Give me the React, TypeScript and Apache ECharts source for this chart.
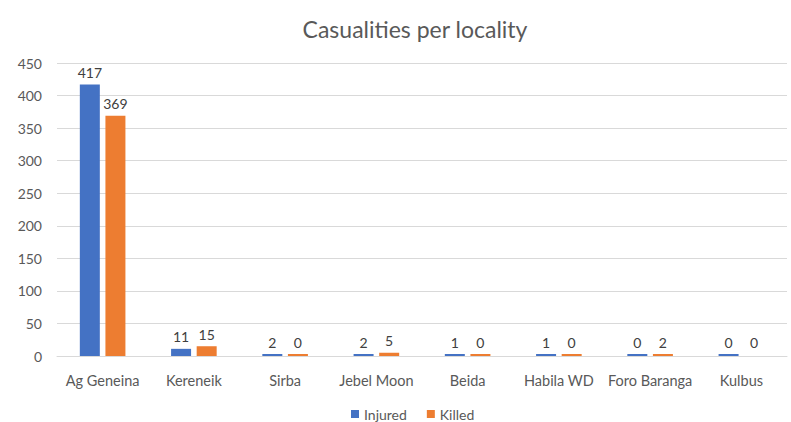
import React, { useEffect, useRef } from "react";
import * as echarts from "echarts";

const categories = ["Ag Geneina", "Kereneik", "Sirba", "Jebel Moon", "Beida", "Habila WD", "Foro Baranga", "Kulbus"];
const injured = [417, 11, 2, 2, 1, 1, 0, 0];
const killed = [369, 15, 0, 5, 0, 0, 2, 0];
const yTicks = { min: 0, max: 450, interval: 50 };

const FONT = "Lato, 'Open Sans', sans-serif";

export default function App() {
  const ref = useRef<HTMLDivElement>(null);
  useEffect(() => {
    if (!ref.current) return;
    const chart = echarts.init(ref.current, undefined, { renderer: "svg" });
    const label = {
      show: true,
      position: "top" as const,
      color: "#404040",
      fontSize: 14,
      fontFamily: FONT,
      distance: 5,
    };
    chart.setOption({
      animation: false,
      backgroundColor: "#ffffff",
      title: {
        text: "Casualities per locality",
        left: 410,
        textAlign: "center",
        top: 12,
        textStyle: { color: "#595959", fontSize: 23, fontWeight: "normal", fontFamily: FONT },
      },
      legend: {
        left: 351,
        top: 407,
        padding: 0,
        icon: "rect",
        itemWidth: 8,
        itemHeight: 8,
        itemGap: 20,
        textStyle: { color: "#595959", fontSize: 14, fontFamily: FONT },
        data: ["Injured", "Killed"],
      },
      grid: { left: 57, right: 4, top: 63, bottom: 66 },
      xAxis: {
        type: "category",
        data: categories,
        axisTick: { show: false },
        axisLine: { lineStyle: { color: "#d9d9d9" } },
        axisLabel: { color: "#595959", fontSize: 14.5, fontFamily: FONT, margin: 17, interval: 0 },
      },
      yAxis: {
        type: "value",
        min: yTicks.min,
        max: yTicks.max,
        interval: yTicks.interval,
        axisLine: { show: false },
        axisTick: { show: false },
        splitLine: { lineStyle: { color: "#d9d9d9" } },
        axisLabel: { color: "#595959", fontSize: 14, fontFamily: FONT, margin: 15 },
      },
      series: [
        {
          name: "Injured",
          type: "bar",
          data: injured,
          barWidth: 20,
          barGap: "28%",
          barMinHeight: 2,
          itemStyle: { color: "#4472C4" },
          label,
        },
        {
          name: "Killed",
          type: "bar",
          data: killed.map((v, i) =>
            i === killed.length - 1 ? { value: v, itemStyle: { color: "rgba(237,125,49,0)" } } : v
          ),
          barWidth: 20,
          barMinHeight: 2,
          itemStyle: { color: "#ED7D31" },
          label,
        },
      ],
    });
    return () => chart.dispose();
  }, []);
  return (
    <div
      ref={ref}
      style={{ position: "fixed", left: 0, top: 0, width: 791, height: 422 }}
    />
  );
}
